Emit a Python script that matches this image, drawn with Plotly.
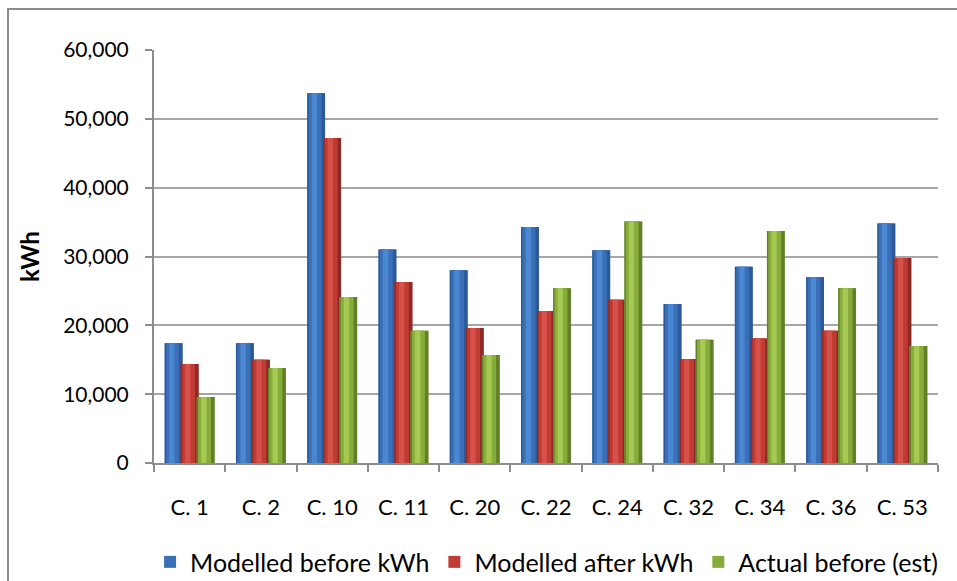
import plotly.graph_objects as go

categories = ["C. 1", "C. 2", "C. 10", "C. 11", "C. 20", "C. 22", "C. 24", "C. 32", "C. 34", "C. 36", "C. 53"]
modelled_before = [17400, 17400, 53700, 31000, 28000, 34300, 30900, 23100, 28500, 27000, 34800]
modelled_after = [14400, 15000, 47200, 26300, 19600, 22100, 23700, 15100, 18100, 19200, 29800]
actual_before = [9600, 13800, 24100, 19200, 15700, 25400, 35100, 17900, 33700, 25400, 17000]
series_names = ["Modelled before kWh", "Modelled after kWh", "Actual before (est)"]
y_ticks = [0, 10000, 20000, 30000, 40000, 50000, 60000]

FONT = "Lato"
series = [
    (series_names[0], modelled_before, -0.35, ("#2C5A99", "#3A70B8", "#4C88D2")),
    (series_names[1], modelled_after, -0.125, ("#8E2A25", "#C03B33", "#D6514A")),
    (series_names[2], actual_before, 0.10, ("#62802A", "#88AC3A", "#A6C954")),
]
W = 0.25

fig = go.Figure()
for name, vals, off, (dark, base, light) in series:
    fig.add_trace(go.Bar(x=categories, y=vals, name=name, offset=off, width=W,
                         marker=dict(color=base, line=dict(width=0)), showlegend=True,
                         legendgroup=name, hoverinfo="skip"))
    fig.add_trace(go.Bar(x=categories, y=vals, name=name, offset=off, width=W,
                         marker=dict(color=dark, line=dict(width=0)), showlegend=False,
                         legendgroup=name))
    fig.add_trace(go.Bar(x=categories, y=vals, name=name, offset=off + W * 0.08, width=W * 0.72,
                         marker=dict(color=base, line=dict(width=0)), showlegend=False,
                         legendgroup=name))
    fig.add_trace(go.Bar(x=categories, y=vals, name=name, offset=off + W * 0.25, width=W * 0.3,
                         marker=dict(color=light, line=dict(width=0)), showlegend=False,
                         legendgroup=name))

fig.update_layout(
    width=957, height=581,
    margin=dict(l=154, r=19, t=50, b=118, autoexpand=False),
    paper_bgcolor="white", plot_bgcolor="white",
    barmode="overlay",
    font=dict(family=FONT, size=20, color="black"),
    showlegend=True,
    legend=dict(orientation="h", x=-0.005, xanchor="left", y=-0.24, yanchor="middle",
                font=dict(family=FONT, size=25), itemwidth=30, traceorder="normal",
                tracegroupgap=0, bgcolor="rgba(0,0,0,0)"),
    xaxis=dict(type="category", showgrid=False, showline=True, linecolor="#8C8C8C", linewidth=2,
               ticks="outside", tickson="boundaries", ticklen=7, tickcolor="#8C8C8C", tickwidth=2,
               tickfont=dict(family=FONT, size=22), ticklabelstandoff=24, automargin=False,
               range=[-0.5, 10.5], fixedrange=True),
    yaxis=dict(range=[0, 60000], tickvals=y_ticks, tickformat=",d", showgrid=True,
               gridcolor="#A6A6A6", gridwidth=2, showline=True, linecolor="#8C8C8C", linewidth=2,
               ticks="outside", ticklen=7, tickcolor="#8C8C8C", tickwidth=2, zeroline=False,
               tickfont=dict(family=FONT, size=21), ticklabelstandoff=12, automargin=False,
               title=dict(text="<b>kWh</b>", font=dict(family=FONT, size=24), standoff=17)),
    shapes=[dict(type="rect", xref="paper", yref="paper", x0=-0.1862, x1=1.2, y0=-0.6, y1=1.0993,
                 line=dict(color="#8C8C8C", width=2), fillcolor="rgba(0,0,0,0)", layer="below")],
)

fig.write_html("out.html")
